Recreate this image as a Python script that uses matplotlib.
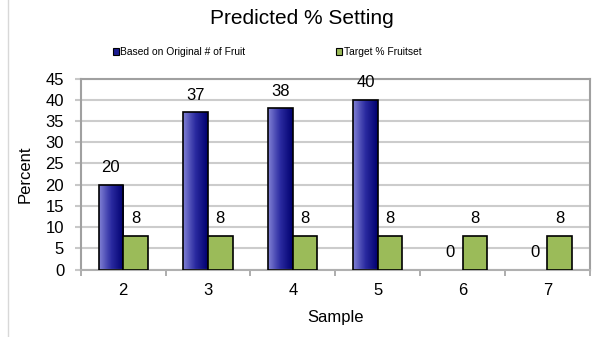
import numpy as np
import matplotlib.pyplot as plt
from matplotlib.colors import LinearSegmentedColormap
from matplotlib.lines import Line2D
from matplotlib.patches import Rectangle

plt.rcParams['font.family'] = ['Liberation Sans', 'DejaVu Sans']

samples = ['2', '3', '4', '5', '6', '7']
original = [20, 37, 38, 40, 0, 0]
target = [8, 8, 8, 8, 8, 8]

fig = plt.figure(figsize=(6.03, 3.37), dpi=100)
ax = fig.add_axes([0.134, 0.2, 0.844, 0.567])

x = np.arange(len(samples))
w = 0.29
blue_cmap = LinearSegmentedColormap.from_list('bluegrad', ['#8080d4', '#2a2aa0', '#00006e'])
grad = np.linspace(0, 1, 64).reshape(1, -1)

# blue bars: outline via bar, fill via clipped gradient image
bars = ax.bar(x - w / 2, original, w, facecolor='none', edgecolor='black', linewidth=1.2, zorder=3)
for b, v in zip(bars, original):
    if v <= 0:
        b.set_edgecolor('none')
        continue
    x0 = b.get_x()
    im = ax.imshow(grad, cmap=blue_cmap, aspect='auto', extent=[x0, x0 + w, 0, v],
                   zorder=2, interpolation='bilinear')
    im.set_clip_path(b)
ax.bar(x + w / 2, target, w, color='#9bbb59', edgecolor='black', linewidth=1.2, zorder=3)

for xi, v in zip(x, original):
    ax.text(xi - w / 2, v + 4, str(v), ha='center', va='center', fontsize=12)
for xi, v in zip(x, target):
    ax.text(xi + w / 2, v + 4, str(v), ha='center', va='center', fontsize=12)

ax.set_xlim(-0.5, len(samples) - 0.5)
ax.set_ylim(0, 45)
ax.set_yticks(range(0, 46, 5))
ax.set_xticks(x)
ax.set_xticklabels(samples)
ax.set_xticks(np.arange(-0.5, len(samples), 1), minor=True)
ax.tick_params(axis='x', which='major', length=0, labelsize=12, pad=10)
ax.tick_params(axis='x', which='minor', length=4, width=1.2, color='#a0a0a0', direction='out')
ax.tick_params(axis='y', length=4, width=1.5, color='#c8c8c8', labelsize=12, pad=8)
ax.yaxis.grid(True, color='#cccccc', linewidth=1.5, zorder=0)
ax.set_axisbelow(True)
for s in ax.spines.values():
    s.set_color('#a0a0a0')
    s.set_linewidth(1.5)
ax.spines['bottom'].set_color('#b0b0b0')

ax.set_xlabel('Sample', fontsize=12, labelpad=8)
ax.set_ylabel('Percent', fontsize=12, labelpad=9)

fig.text(0.5, 0.945, 'Predicted % Setting', ha='center', va='center', fontsize=15)

handles = [Rectangle((0, 0), 1, 1, facecolor='#1c1c90', edgecolor='black', linewidth=0.8),
           Rectangle((0, 0), 1, 1, facecolor='#9bbb59', edgecolor='black', linewidth=0.8)]
fig.legend(handles, ['Based on Original # of Fruit', 'Target % Fruitset'],
           loc='center left', bbox_to_anchor=(0.187, 0.845), ncol=2, frameon=False,
           fontsize=7.4, handlelength=0.6, handleheight=0.6, handletextpad=0.15,
           columnspacing=8.8, borderpad=0, borderaxespad=0)

# faint sheet edge on the left
fig.add_artist(Line2D([0.013, 0.013], [0, 1], color='#d8d8d8', linewidth=1))

fig.savefig('out.png', dpi=100)
